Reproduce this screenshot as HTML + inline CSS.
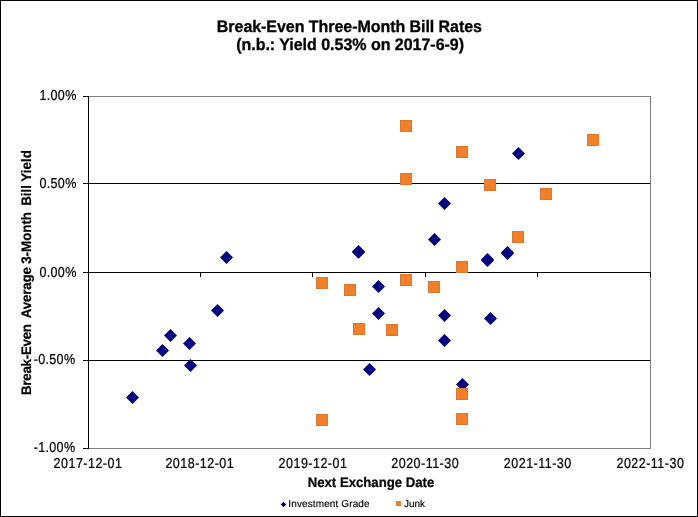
<!DOCTYPE html>
<html><head><meta charset="utf-8"><title>Break-Even Three-Month Bill Rates</title>
<style>
html,body{margin:0;padding:0;background:#fff;}
body{width:698px;height:517px;overflow:hidden;}
svg{display:block;}
text{font-family:"Liberation Sans",sans-serif;fill:#000;text-rendering:geometricPrecision;}
.b{font-weight:bold;}
.t{font-size:16px;font-weight:bold;stroke:#000;stroke-width:0.3px;}
.a{font-size:13.33px;stroke:#000;stroke-width:0.22px;}
.l{font-size:10px;stroke:#000;stroke-width:0.15px;}
</style></head><body>
<svg width="698" height="517" viewBox="0 0 698 517">
<rect x="0" y="0" width="698" height="517" fill="#fff"/>
<g shape-rendering="crispEdges">
<rect x="0" y="0" width="698" height="1" fill="#000"/>
<rect x="0" y="516" width="698" height="1" fill="#000"/>
<rect x="0" y="0" width="1" height="517" fill="#000"/>
<rect x="697" y="0" width="1" height="517" fill="#000"/>
<!-- plot border (gray) -->
<rect x="88" y="96" width="563" height="1" fill="#808080"/>
<rect x="88" y="448" width="563" height="1" fill="#808080"/>
<rect x="650" y="96" width="1" height="353" fill="#808080"/>
<!-- gridlines -->
<rect x="88" y="183" width="562" height="1" fill="#000"/>
<rect x="88" y="360" width="562" height="1" fill="#000"/>
<!-- axes -->
<rect x="88" y="96" width="1" height="353" fill="#000"/>
<rect x="88" y="272" width="563" height="1" fill="#000"/>
<rect x="83" y="96" width="5" height="1" fill="#000"/>
<rect x="83" y="183" width="5" height="1" fill="#000"/>
<rect x="83" y="272" width="5" height="1" fill="#000"/>
<rect x="83" y="360" width="5" height="1" fill="#000"/>
<rect x="83" y="448" width="5" height="1" fill="#000"/>
<rect x="88" y="272" width="1" height="5" fill="#000"/>
<rect x="200" y="272" width="1" height="5" fill="#000"/>
<rect x="312" y="272" width="1" height="5" fill="#000"/>
<rect x="425" y="272" width="1" height="5" fill="#000"/>
<rect x="537" y="272" width="1" height="5" fill="#000"/>
<rect x="650" y="272" width="1" height="5" fill="#000"/>
</g>
<g>
<polygon points="132.5,391.0 139.0,397.5 132.5,404.0 126.0,397.5" fill="#000080"/>
<polygon points="162.5,344.0 169.0,350.5 162.5,357.0 156.0,350.5" fill="#000080"/>
<polygon points="170.5,329.0 177.0,335.5 170.5,342.0 164.0,335.5" fill="#000080"/>
<polygon points="189.5,337.0 196.0,343.5 189.5,350.0 183.0,343.5" fill="#000080"/>
<polygon points="190.5,359.0 197.0,365.5 190.5,372.0 184.0,365.5" fill="#000080"/>
<polygon points="217.5,304.0 224.0,310.5 217.5,317.0 211.0,310.5" fill="#000080"/>
<polygon points="226.5,251.0 233.0,257.5 226.5,264.0 220.0,257.5" fill="#000080"/>
<polygon points="358.5,245.0 365.0,251.5 358.5,258.0 352.0,251.5" fill="#000080"/>
<polygon points="358.5,245.8 365.0,252.3 358.5,258.8 352.0,252.3" fill="#000080"/>
<polygon points="369.5,363.0 376.0,369.5 369.5,376.0 363.0,369.5" fill="#000080"/>
<polygon points="378.5,280.0 385.0,286.5 378.5,293.0 372.0,286.5" fill="#000080"/>
<polygon points="378.5,307.0 385.0,313.5 378.5,320.0 372.0,313.5" fill="#000080"/>
<polygon points="434.5,233.0 441.0,239.5 434.5,246.0 428.0,239.5" fill="#000080"/>
<polygon points="444.5,197.0 451.0,203.5 444.5,210.0 438.0,203.5" fill="#000080"/>
<polygon points="444.5,309.0 451.0,315.5 444.5,322.0 438.0,315.5" fill="#000080"/>
<polygon points="444.5,334.0 451.0,340.5 444.5,347.0 438.0,340.5" fill="#000080"/>
<polygon points="462.5,378.0 469.0,384.5 462.5,391.0 456.0,384.5" fill="#000080"/>
<polygon points="487.5,253.0 494.0,259.5 487.5,266.0 481.0,259.5" fill="#000080"/>
<polygon points="487.5,254.0 494.0,260.5 487.5,267.0 481.0,260.5" fill="#000080"/>
<polygon points="490.5,312.0 497.0,318.5 490.5,325.0 484.0,318.5" fill="#000080"/>
<polygon points="507.5,246.0 514.0,252.5 507.5,259.0 501.0,252.5" fill="#000080"/>
<polygon points="507.5,247.0 514.0,253.5 507.5,260.0 501.0,253.5" fill="#000080"/>
<polygon points="518.5,147.0 525.0,153.5 518.5,160.0 512.0,153.5" fill="#000080"/>
</g>
<g shape-rendering="crispEdges">
<rect x="400" y="120" width="12" height="12" fill="#DD762F"/><rect x="401" y="121" width="10" height="10" fill="#F27F2A"/>
<rect x="400" y="173" width="12" height="12" fill="#DD762F"/><rect x="401" y="174" width="10" height="10" fill="#F27F2A"/>
<rect x="456" y="146" width="12" height="12" fill="#DD762F"/><rect x="457" y="147" width="10" height="10" fill="#F27F2A"/>
<rect x="484" y="179" width="12" height="12" fill="#DD762F"/><rect x="485" y="180" width="10" height="10" fill="#F27F2A"/>
<rect x="540" y="188" width="12" height="12" fill="#DD762F"/><rect x="541" y="189" width="10" height="10" fill="#F27F2A"/>
<rect x="587" y="134" width="12" height="12" fill="#DD762F"/><rect x="588" y="135" width="10" height="10" fill="#F27F2A"/>
<rect x="512" y="231" width="12" height="12" fill="#DD762F"/><rect x="513" y="232" width="10" height="10" fill="#F27F2A"/>
<rect x="456" y="261" width="12" height="12" fill="#DD762F"/><rect x="457" y="262" width="10" height="10" fill="#F27F2A"/>
<rect x="316" y="277" width="12" height="12" fill="#DD762F"/><rect x="317" y="278" width="10" height="10" fill="#F27F2A"/>
<rect x="344" y="284" width="12" height="12" fill="#DD762F"/><rect x="345" y="285" width="10" height="10" fill="#F27F2A"/>
<rect x="400" y="274" width="12" height="12" fill="#DD762F"/><rect x="401" y="275" width="10" height="10" fill="#F27F2A"/>
<rect x="428" y="281" width="12" height="12" fill="#DD762F"/><rect x="429" y="282" width="10" height="10" fill="#F27F2A"/>
<rect x="353" y="323" width="12" height="12" fill="#DD762F"/><rect x="354" y="324" width="10" height="10" fill="#F27F2A"/>
<rect x="386" y="324" width="12" height="12" fill="#DD762F"/><rect x="387" y="325" width="10" height="10" fill="#F27F2A"/>
<rect x="316" y="414" width="12" height="12" fill="#DD762F"/><rect x="317" y="415" width="10" height="10" fill="#F27F2A"/>
<rect x="456" y="388" width="12" height="12" fill="#DD762F"/><rect x="457" y="389" width="10" height="10" fill="#F27F2A"/>
<rect x="456" y="413" width="12" height="12" fill="#DD762F"/><rect x="457" y="414" width="10" height="10" fill="#F27F2A"/>
</g>
<g style="filter:grayscale(1)">
<text class="t" transform="translate(349.4,31.8) scale(1,1.04)" text-anchor="middle" letter-spacing="-0.05">Break-Even Three-Month Bill Rates</text>
<text class="t" transform="translate(350.1,50.1) scale(1,1.04)" text-anchor="middle" letter-spacing="-0.02">(n.b.: Yield 0.53% on 2017-6-9)</text>
<text class="a" transform="translate(76.6,100) scale(0.94,1.08)" text-anchor="end" letter-spacing="0.35">1.00%</text>
<text class="a" transform="translate(76.6,188) scale(0.94,1.08)" text-anchor="end" letter-spacing="0.35">0.50%</text>
<text class="a" transform="translate(76.6,276.5) scale(0.94,1.08)" text-anchor="end" letter-spacing="0.35">0.00%</text>
<text class="a" transform="translate(75.4,364) scale(0.94,1.08)" text-anchor="end" letter-spacing="0.35">-0.50%</text>
<text class="a" transform="translate(75.4,452) scale(0.94,1.08)" text-anchor="end" letter-spacing="0.35">-1.00%</text>
<text class="a" transform="translate(88,468) scale(0.94,1.08)" text-anchor="middle" letter-spacing="0.5">2017-12-01</text>
<text class="a" transform="translate(199.8,468) scale(0.94,1.08)" text-anchor="middle" letter-spacing="0.5">2018-12-01</text>
<text class="a" transform="translate(313,468) scale(0.94,1.08)" text-anchor="middle" letter-spacing="0.5">2019-12-01</text>
<text class="a" transform="translate(425.2,468) scale(0.94,1.08)" text-anchor="middle" letter-spacing="0.5">2020-11-30</text>
<text class="a" transform="translate(537.8,468) scale(0.94,1.08)" text-anchor="middle" letter-spacing="0.5">2021-11-30</text>
<text class="a" transform="translate(650.4,468) scale(0.94,1.08)" text-anchor="middle" letter-spacing="0.5">2022-11-30</text>
<text class="a b" transform="translate(371,486.9) scale(0.988,1.04)" text-anchor="middle">Next Exchange Date</text>
<text class="a b" transform="translate(31,395.0) rotate(-90) scale(1,1.035)" letter-spacing="-0.26">Break-Even</text>
<text class="a b" transform="translate(31,318.3) rotate(-90) scale(1,1.035)" letter-spacing="-0.15">Average</text>
<text class="a b" transform="translate(31,263.8) rotate(-90) scale(1,1.035)" letter-spacing="0">3-Month</text>
<text class="a b" transform="translate(31,205.8) rotate(-90) scale(1,1.035)" letter-spacing="0">Bill</text>
<text class="a b" transform="translate(31,181.8) rotate(-90) scale(1,1.035)" letter-spacing="0.1">Yield</text>
</g>
<polygon points="283.5,501.7 286.3,504.5 283.5,507.3 280.7,504.5" fill="#000080"/>
<text class="l" style="filter:grayscale(1)" x="288.3" y="507" letter-spacing="0.12">Investment Grade</text>
<rect x="396" y="501" width="5" height="5" fill="#EE7D31" shape-rendering="crispEdges"/>
<text class="l" style="filter:grayscale(1)" x="404" y="507">Junk</text>
</svg>
</body></html>
